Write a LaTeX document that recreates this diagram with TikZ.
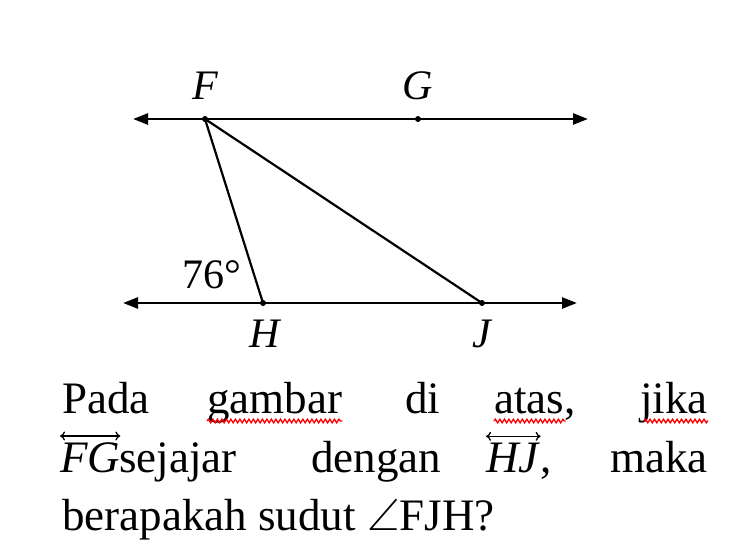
\documentclass[tikz,border=0pt]{standalone}
\usepackage{amsmath,amssymb}
\usepackage{fontspec}
\setmainfont{Liberation Serif}
\usetikzlibrary{arrows.meta}
\usetikzlibrary{decorations.pathmorphing}

\tikzset{
  titik/.style={circle,fill=black,inner sep=0pt,minimum size=6pt},
  lbl/.style={font=\fontsize{42}{50}\selectfont\itshape,inner sep=0pt},
  wrd/.style={font=\fontsize{45}{54}\selectfont,inner sep=0pt,anchor=base west},
  garis/.style={line width=2.6pt,{Triangle[length=15pt,width=11pt]}-{Triangle[length=15pt,width=11pt]}},
  sisi/.style={line width=2.2pt},
  panah/.style={line width=1.3pt,{Computer Modern Rightarrow[length=5pt,width=9pt]}-{Computer Modern Rightarrow[length=5pt,width=9pt]}},
  salah/.style={red,line width=1.3pt,decorate,
    decoration={snake,amplitude=1.8pt,segment length=4.5pt}}
}

\begin{document}
\begin{tikzpicture}[x=1pt,y=-1pt]
\useasboundingbox (0,0) rectangle (742,554);

% garis FG
\coordinate (fgL) at (133,119);
\coordinate (fgR) at (588,119);
\draw[garis] (fgL) -- (fgR);
\node[titik] (F) at (205,119) {};
\node[titik] (G) at (418,119) {};
\node[lbl] (lF) at (205,86) {F};
\node[lbl] (lG) at (418,86) {G};

% garis HJ
\coordinate (hjL) at (123,303);
\coordinate (hjR) at (577,303);
\draw[garis] (hjL) -- (hjR);
\node[titik] (H) at (263,303) {};
\node[titik] (J) at (482,303) {};
\node[lbl] (lH) at (265,334) {H};
\node[lbl] (lJ) at (482,334) {J};

% segitiga
\draw[sisi] (F.center) -- (H.center);
\draw[sisi] (F.center) -- (J.center);
\node[lbl,font=\fontsize{42}{50}\selectfont] (sdt) at (212,275) {76°};

% teks soal
\node[wrd] (w1) at (62,413) {Pada};
\node[wrd] (w2) at (207,413) {gambar};
\node[wrd] (w3) at (405,413) {di};
\node[wrd] (w4) at (494,413) {atas,};
\node[wrd,anchor=base east] (w5) at (708,413) {jika};
\node[wrd] (w6) at (60,472) {\textit{FG}};
\node[wrd] (w7) at (119,472) {sejajar};
\node[wrd] (w8) at (311,472) {dengan};
\node[wrd] (w9) at (486,472) {\textit{HJ}};
\node[wrd,anchor=base west] (w9k) at (w9.base east) {,};
\node[wrd,anchor=base east] (w10) at (708,472) {maka};
\node[wrd] (w11) at (62,530) {berapakah sudut $\angle$FJH?};

% panah di atas FG dan HJ
\draw[panah] ([yshift=6pt]w6.north west) -- ([yshift=6pt]w6.north east);
\draw[panah] ([yshift=6pt]w9.north west) -- ([yshift=6pt]w9.north east);

% garis merah
\draw[salah] ([yshift=-8pt]w2.base west) -- ([yshift=-8pt]w2.base east);
\draw[salah] ([yshift=-8pt]w4.base west) -- ([yshift=-8pt,xshift=-10pt]w4.base east);
\draw[salah] ([yshift=-8pt,xshift=4pt]w5.base west) -- ([yshift=-8pt]w5.base east);
\end{tikzpicture}
\end{document}
